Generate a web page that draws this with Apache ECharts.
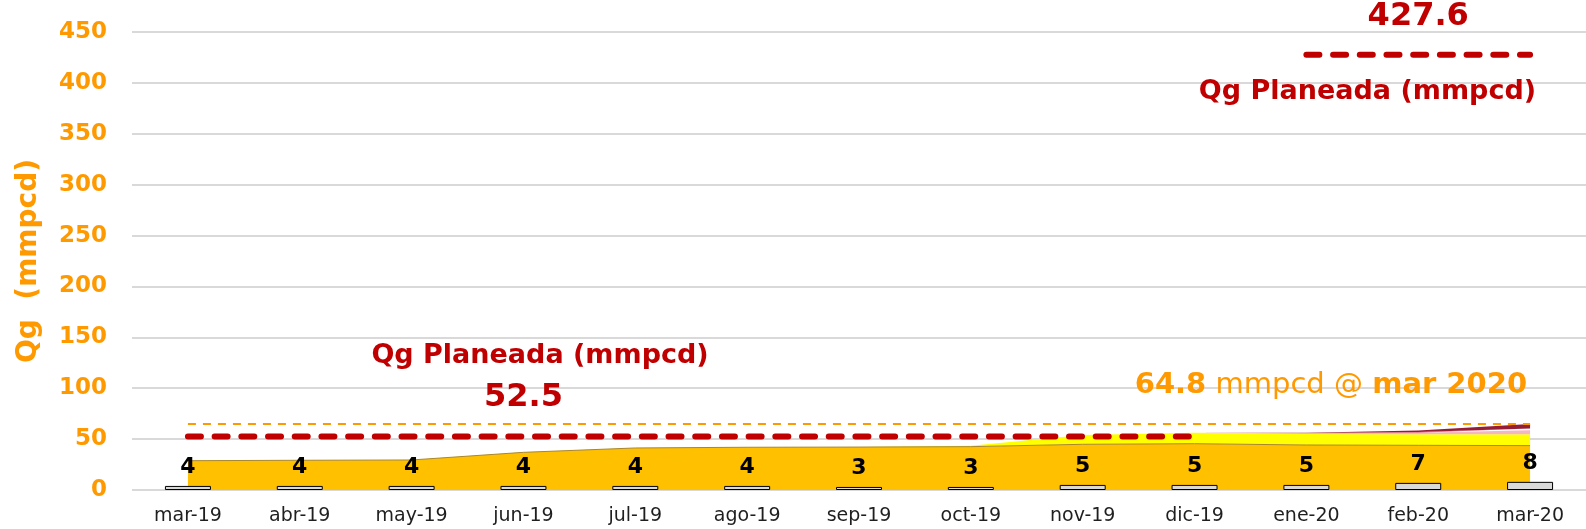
<!DOCTYPE html>
<html lang="es" style="width: 100%; height: 100%">
<head>
  <meta charset="utf-8">
</head>
<body style="margin: 0; width: 1586px; height: 529px">
  <div id="container" style="width: 1586px; height: 529px"></div>

  <script type="text/javascript" src="https://cdn.jsdelivr.net/npm/echarts@6/dist/echarts.min.js"></script>

  <script type="text/javascript">

var meses = ['mar-19', 'abr-19', 'may-19', 'jun-19', 'jul-19', 'ago-19', 'sep-19',
             'oct-19', 'nov-19', 'dic-19', 'ene-20', 'feb-20', 'mar-20'];

// produccion de gas por bloque (mmpcd), apilada
var qgNaranja  = [28.8, 29.2, 29.5, 37.0, 41.3, 42.0, 42.2, 42.6, 44.9, 45.5, 44.2, 43.9, 43.6];
var qgAmarillo = [0, 0, 0, 0, 0, 0, 0, 0.8, 9.1, 10.8, 10.8, 10.8, 11.1];
var qgRosa     = [0, 0, 0, 0, 0, 0, 0, 0, 0, 0, 0.8, 1.6, 4.0];
var qgRojo     = [0, 0, 0, 0, 0, 0, 0, 0, 0, 0, 0.2, 0.8, 1.8];
var qgGuinda   = [0, 0, 0, 0, 0, 0, 0, 0, 0, 0, 0.3, 1.3, 4.3];

// numero de pozos
var pozos = [4, 4, 4, 4, 4, 4, 3, 3, 5, 5, 5, 7, 8];

// Qg planeada
var planeada2019 = [52.5, 52.5, 52.5, 52.5, 52.5, 52.5, 52.5, 52.5, 52.5, 52.5, null, null, null];
var planeada2020 = [null, null, null, null, null, null, null, null, null, null, 427.6, 427.6, 427.6];
var qgActual = [64.8, 64.8, 64.8, 64.8, 64.8, 64.8, 64.8, 64.8, 64.8, 64.8, 64.8, 64.8, 64.8];

var NARANJA = '#FF9900';
var ROJO = '#C00000';
var FUENTE = '"DejaVu Sans", sans-serif';

var dom = document.getElementById('container');
var myChart = echarts.init(dom, null, { renderer: 'canvas' });

function area(nombre, datos, color, borde) {
  return {
    name: nombre,
    type: 'line',
    stack: 'qg',
    data: datos,
    symbol: 'none',
    z: 1,
    lineStyle: { width: borde ? 1 : 0, color: borde || color },
    areaStyle: { color: color, opacity: 1 },
    silent: true
  };
}

// puntos invisibles: solo sirven para colgar etiquetas
var sinPunto = {
  symbol: 'circle', symbolSize: 2, showSymbol: true,
  itemStyle: { color: 'rgba(0,0,0,0)', borderWidth: 0 }
};

var option = {
  animation: false,
  grid: { left: 132, right: 0, top: 32, bottom: 39 },
  xAxis: {
    type: 'category',
    data: meses,
    axisLine: { show: false },
    axisTick: { show: false },
    axisLabel: { color: '#1f1f1f', fontSize: 19, fontFamily: FUENTE, margin: 17 }
  },
  yAxis: {
    type: 'value',
    min: 0,
    max: 450,
    interval: 50,
    name: 'Qg  (mmpcd)',
    nameLocation: 'middle',
    nameRotate: 90,
    nameGap: 89,
    nameTextStyle: { color: NARANJA, fontSize: 28, fontWeight: 'bold', fontFamily: FUENTE },
    axisLine: { show: false },
    axisTick: { show: false },
    axisLabel: { color: NARANJA, fontSize: 23, fontWeight: 'bold', fontFamily: FUENTE, margin: 25 },
    splitLine: { lineStyle: { color: '#D9D9D9', width: 2 } }
  },
  graphic: [{
    type: 'text',
    x: 540,
    y: 356,
    style: {
      text: 'Qg Planeada (mmpcd)',
      fill: ROJO,
      font: 'bold 27px ' + FUENTE,
      align: 'center',
      verticalAlign: 'middle'
    }
  }],
  series: [
    area('Bloque A', qgNaranja, '#FFC000', '#A8862E'),
    area('Bloque B', qgAmarillo, '#FFFF00', null),
    area('Bloque C', qgRosa, '#F4B6C2', null),
    area('Bloque D', qgRojo, '#E2667E', null),
    area('Bloque E', qgGuinda, '#951E36', null),
    {
      name: 'Pozos',
      type: 'bar',
      data: pozos,
      barWidth: 46,
      z: 2,
      itemStyle: { color: '#D9D9D9', borderColor: '#000', borderWidth: 1 },
      label: {
        show: true,
        position: 'top',
        distance: 8,
        color: '#000',
        fontSize: 22,
        fontWeight: 'bold',
        fontFamily: FUENTE
      }
    },
    Object.assign({
      name: 'Qg actual',
      type: 'line',
      z: 3,
      lineStyle: { color: NARANJA, width: 2, type: [8, 7] },
      data: qgActual.map(function (v, i) {
        if (i !== qgActual.length - 1) return v;
        return {
          value: v,
          label: {
            show: true,
            position: 'top',
            align: 'right',
            distance: 23,
            offset: [-3, 0],
            formatter: '{b|' + v + '}{r| mmpcd @ }{b|mar 2020}',
            rich: {
              b: { color: NARANJA, fontSize: 29, fontWeight: 'bold', fontFamily: FUENTE },
              r: { color: NARANJA, fontSize: 29, fontFamily: FUENTE }
            }
          }
        };
      })
    }, sinPunto),
    Object.assign({
      name: 'Qg Planeada 2019',
      type: 'line',
      z: 4,
      lineStyle: { color: ROJO, width: 6, type: [13, 13.7], cap: 'round' },
      data: planeada2019.map(function (v, i) {
        if (i !== 3) return v;
        return {
          value: v,
          label: {
            show: true, position: 'top', distance: 22,
            color: ROJO, fontSize: 32, fontWeight: 'bold', fontFamily: FUENTE
          }
        };
      })
    }, sinPunto),
    Object.assign({
      name: 'Qg Planeada 2020',
      type: 'line',
      z: 4,
      lineStyle: { color: ROJO, width: 6, type: [13, 13.7], cap: 'round' },
      data: planeada2020.map(function (v, i) {
        if (i === 11) {
          return {
            value: v,
            label: {
              show: true, position: 'top', distance: 21,
              color: ROJO, fontSize: 32, fontWeight: 'bold', fontFamily: FUENTE
            }
          };
        }
        if (i === 12) {
          return {
            value: v,
            label: {
              show: true, position: 'bottom', distance: 23, align: 'right', offset: [6, 0],
              formatter: 'Qg Planeada (mmpcd)',
              color: ROJO, fontSize: 27, fontWeight: 'bold', fontFamily: FUENTE
            }
          };
        }
        return v;
      })
    }, sinPunto)
  ]
};

myChart.setOption(option);
window.addEventListener('resize', myChart.resize);

  </script>
</body>
</html>
